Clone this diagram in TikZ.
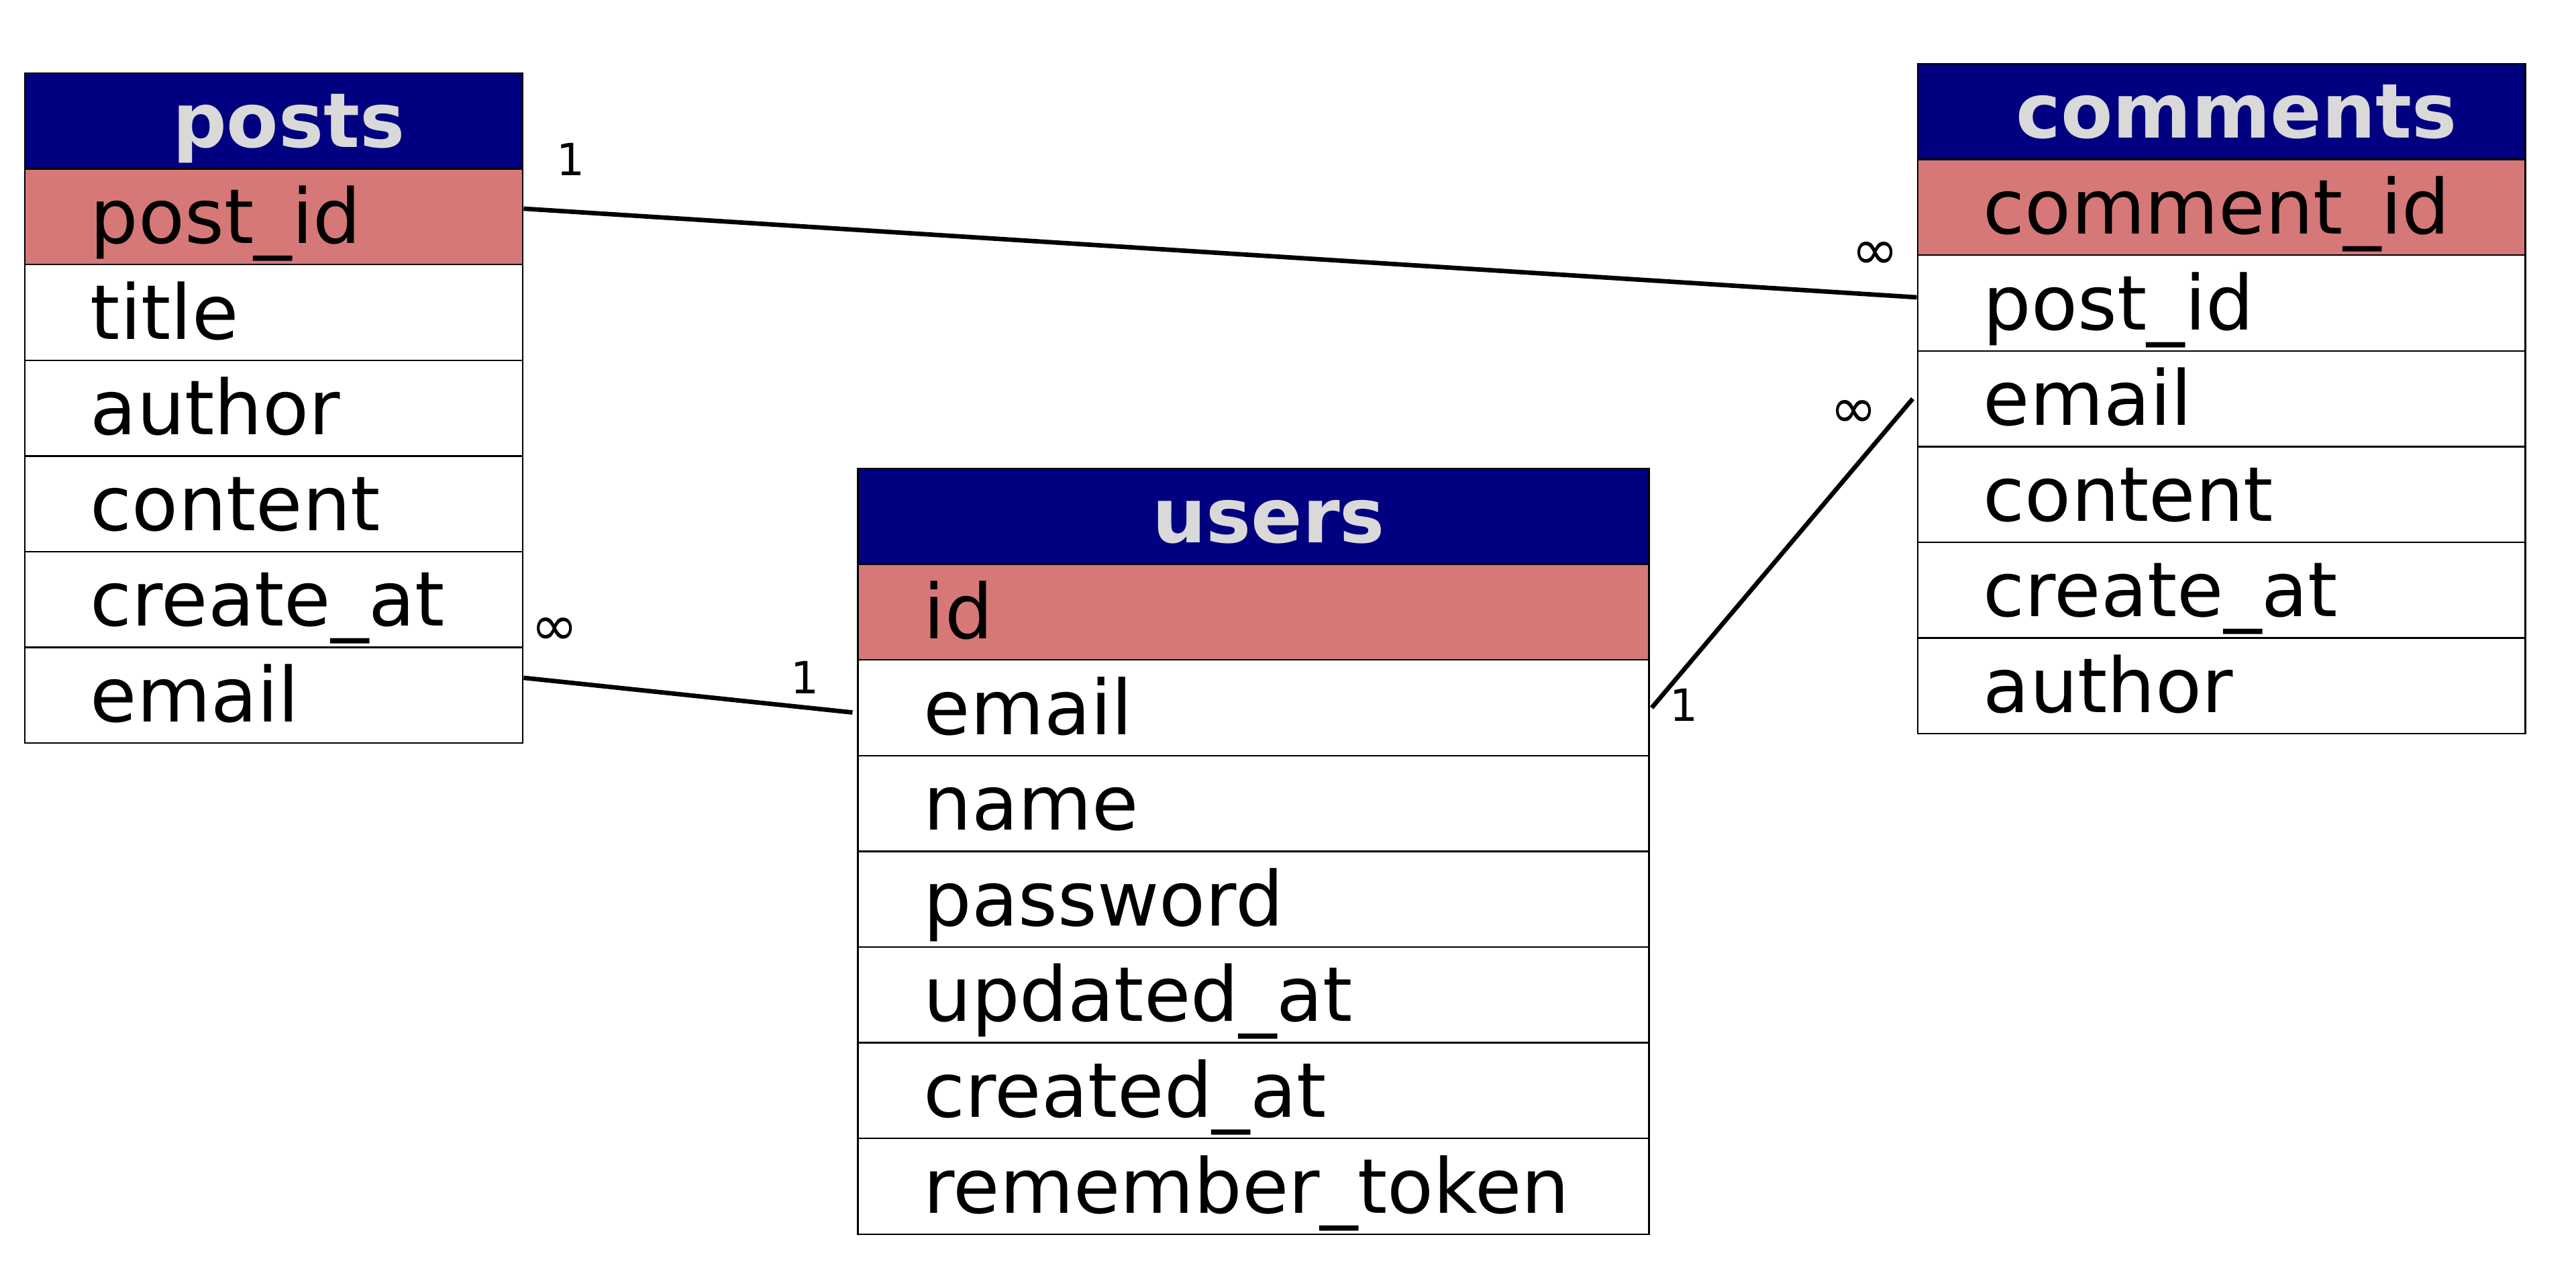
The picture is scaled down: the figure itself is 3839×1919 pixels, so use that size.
\documentclass[tikz,border=0pt]{standalone}
\usepackage{fontspec}
\setmainfont{DejaVu Sans}
\definecolor{hdr}{RGB}{0,0,128}
\definecolor{pk}{RGB}{214,120,120}
\definecolor{hdrtext}{RGB}{217,217,217}
\tikzset{
  cell/.style={draw=black, line width=0.7pt, rectangle, inner xsep=0.98cm, inner ysep=0pt,
    text height=1.07cm, text depth=0.28cm, font=\fontsize{32.1pt}{38pt}\selectfont},
  field/.style 2 args={cell, align=left, text width=#1, minimum height=#2},
  keyfield/.style 2 args={field={#1}{#2}, fill=pk},
  header/.style 2 args={cell, align=center, text width=#1, minimum height=#2, fill=hdr,
    text=hdrtext, font=\fontsize{32.1pt}{38pt}\selectfont\bfseries,
    execute at begin node=\hspace*{0.45cm}},
  rel/.style={draw=black, line width=1.9pt},
  card/.style={font=\fontsize{18.8pt}{22pt}\selectfont, inner sep=0pt},
  many/.style={font=\fontsize{24pt}{26pt}\selectfont, inner sep=0pt}
}
\begin{document}
\begin{tikzpicture}[x=0.01cm,y=-0.01cm]
\useasboundingbox (0,0) rectangle (3839,1919);
\fill[white] (0,0) rectangle (3839,1919);

% posts: x 37..779, top 109, rh 142.6
\def\ph{1.426cm}
\node[header={5.46cm}{\ph}]   (posts)    at (408, 180.3) {posts};
\node[keyfield={5.46cm}{\ph}] (p-postid) at (408, 322.9) {post\_id};
\node[field={5.46cm}{\ph}]    (p-title)  at (408, 465.5) {title};
\node[field={5.46cm}{\ph}]    (p-author) at (408, 608.1) {author};
\node[field={5.46cm}{\ph}]    (p-content) at (408, 750.7) {content};
\node[field={5.46cm}{\ph}]    (p-create) at (408, 893.3) {create\_at};
\node[field={5.46cm}{\ph}]    (p-email)  at (408, 1035.9) {email};

% users: x 1279..2457, top 698, rh 142.6
\def\uh{1.426cm}
\node[header={9.82cm}{\uh}]   (users)     at (1868, 769.3) {users};
\node[keyfield={9.82cm}{\uh}] (u-id)      at (1868, 911.9) {id};
\node[field={9.82cm}{\uh}]    (u-email)   at (1868, 1054.5) {email};
\node[field={9.82cm}{\uh}]    (u-name)    at (1868, 1197.1) {name};
\node[field={9.82cm}{\uh}]    (u-pass)    at (1868, 1339.7) {password};
\node[field={9.82cm}{\uh}]    (u-updated) at (1868, 1482.3) {updated\_at};
\node[field={9.82cm}{\uh}]    (u-created) at (1868, 1624.9) {created\_at};
\node[field={9.82cm}{\uh}]    (u-token)   at (1868, 1767.5) {remember\_token};

% comments: x 2858..3763, top 95, rh 142.6
\def\ch{1.426cm}
\node[header={7.09cm}{\ch}]   (comments)  at (3310.5, 166.3) {comments};
\node[keyfield={7.09cm}{\ch}] (c-id)      at (3310.5, 308.9) {comment\_id};
\node[field={7.09cm}{\ch}]    (c-postid)  at (3310.5, 451.5) {post\_id};
\node[field={7.09cm}{\ch}]    (c-email)   at (3310.5, 594.1) {email};
\node[field={7.09cm}{\ch}]    (c-content) at (3310.5, 736.7) {content};
\node[field={7.09cm}{\ch}]    (c-create)  at (3310.5, 879.3) {create\_at};
\node[field={7.09cm}{\ch}]    (c-author)  at (3310.5, 1021.9) {author};

% relations
\draw[rel] ([yshift=0.12cm]p-postid.east) -- ([yshift=0.085cm]c-postid.west);
\draw[rel] ([yshift=0.26cm]p-email.east) -- ([xshift=-0.07cm,yshift=-0.07cm]u-email.west);
\draw[rel] ([xshift=0.03cm]u-email.east) -- ([xshift=-0.06cm]c-email.west);

% cardinalities
\node[card] (l1) at (851, 237) {1};
\node[many] (l2) at (2795, 381) {∞};
\node[many] (l3) at (827, 941) {∞};
\node[card] (l4) at (1200, 1009) {1};
\node[card] (l5) at (2509, 1050) {1};
\node[many] (l6) at (2763, 617) {∞};
\end{tikzpicture}
\end{document}
